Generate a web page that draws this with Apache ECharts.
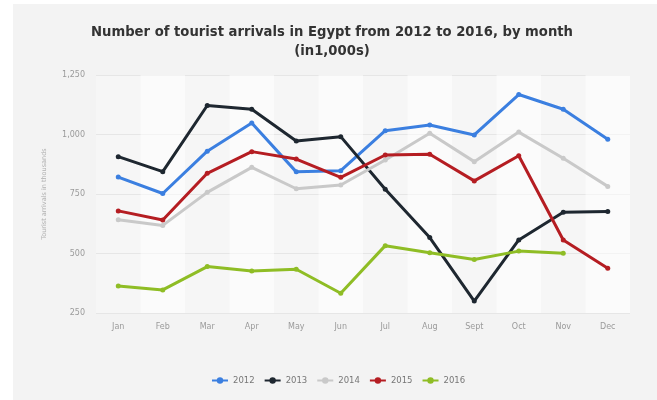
<!DOCTYPE html>
<html>
<head>
<meta charset="utf-8">
<script src="https://cdn.jsdelivr.net/npm/echarts@6/dist/echarts.min.js"></script>
<style>
html,body{margin:0;padding:0;background:#ffffff;}
#card{position:absolute;left:13px;top:4px;width:644px;height:396px;background:#f3f3f3;}
#chart{position:absolute;left:0;top:0;width:657px;height:400px;}
</style>
</head>
<body>
<div id="card"></div>
<div id="chart"></div>
<script>
const months = ['Jan','Feb','Mar','Apr','May','Jun','Jul','Aug','Sept','Oct','Nov','Dec'];
const yTicks = [250, 500, 750, 1000, 1250];
const s2012 = [821, 752, 930, 1048, 843, 848, 1016, 1040, 998, 1168, 1106, 980];
const s2013 = [907, 844, 1122, 1106, 973, 991, 770, 567, 300, 557, 673, 676];
const s2014 = [642, 618, 757, 862, 772, 788, 893, 1005, 886, 1010, 900, 782];
const s2015 = [679, 641, 837, 928, 897, 820, 914, 917, 805, 911, 557, 438];
const s2016 = [363, 347, 445, 426, 434, 333, 533, 503, 475, 510, 501, null];
const seriesNames = ['2012','2013','2014','2015','2016'];
const seriesColors = ['#3b7fe0','#1e2730','#c9c9c9','#b51d22','#8fbd25'];
const seriesData = [s2012, s2013, s2014, s2015, s2016];

const FONT = 'DejaVu Sans';
const chart = echarts.init(document.getElementById('chart'), null, {renderer:'canvas'});
chart.setOption({
  backgroundColor: 'transparent',
  animation: false,
  title: {
    text: 'Number of tourist arrivals in Egypt from 2012 to 2016, by month\n(in1,000s)',
    left: 327, top: 18, textAlign: 'center',
    textStyle: {fontFamily: FONT, fontWeight: 'bold', fontSize: 13.2, color: '#333', lineHeight: 19}
  },
  legend: {
    data: seriesNames,
    bottom: 10, left: 206,
    itemWidth: 16, itemHeight: 8, itemGap: 9,
    textStyle: {fontFamily: FONT, fontSize: 8.5, color: '#777'}
  },
  grid: {left: 96, right: 27, top: 75, bottom: 87, show: true, backgroundColor: '#f6f6f6', borderWidth: 0},
  xAxis: {
    type: 'category', data: months, boundaryGap: true,
    axisLine: {show: false}, axisTick: {show: false},
    axisLabel: {color: '#9a9a9a', fontSize: 8, fontFamily: FONT, margin: 10},
    splitArea: {show: true, areaStyle: {color: ['rgba(255,255,255,0)', 'rgba(255,255,255,0.5)']}},
    splitLine: {show: false}
  },
  yAxis: {
    type: 'value', min: 250, max: 1250, interval: 250,
    name: 'Tourist arrivals in thousands', nameLocation: 'middle', nameGap: 48,
    nameTextStyle: {color: '#b0b0b0', fontSize: 6.5, fontFamily: FONT},
    axisLine: {show: false}, axisTick: {show: false},
    axisLabel: {color: '#9a9a9a', fontSize: 8, fontFamily: FONT, margin: 11,
      formatter: v => v.toLocaleString('en-US')},
    splitLine: {lineStyle: {color: '#e6e6e6', width: 1}}
  },
  series: seriesData.map((d, i) => ({
    name: seriesNames[i], type: 'line', data: d,
    color: seriesColors[i],
    symbol: 'circle', symbolSize: 5,
    lineStyle: {width: 3},
    connectNulls: false
  }))
});
</script>
</body>
</html>
